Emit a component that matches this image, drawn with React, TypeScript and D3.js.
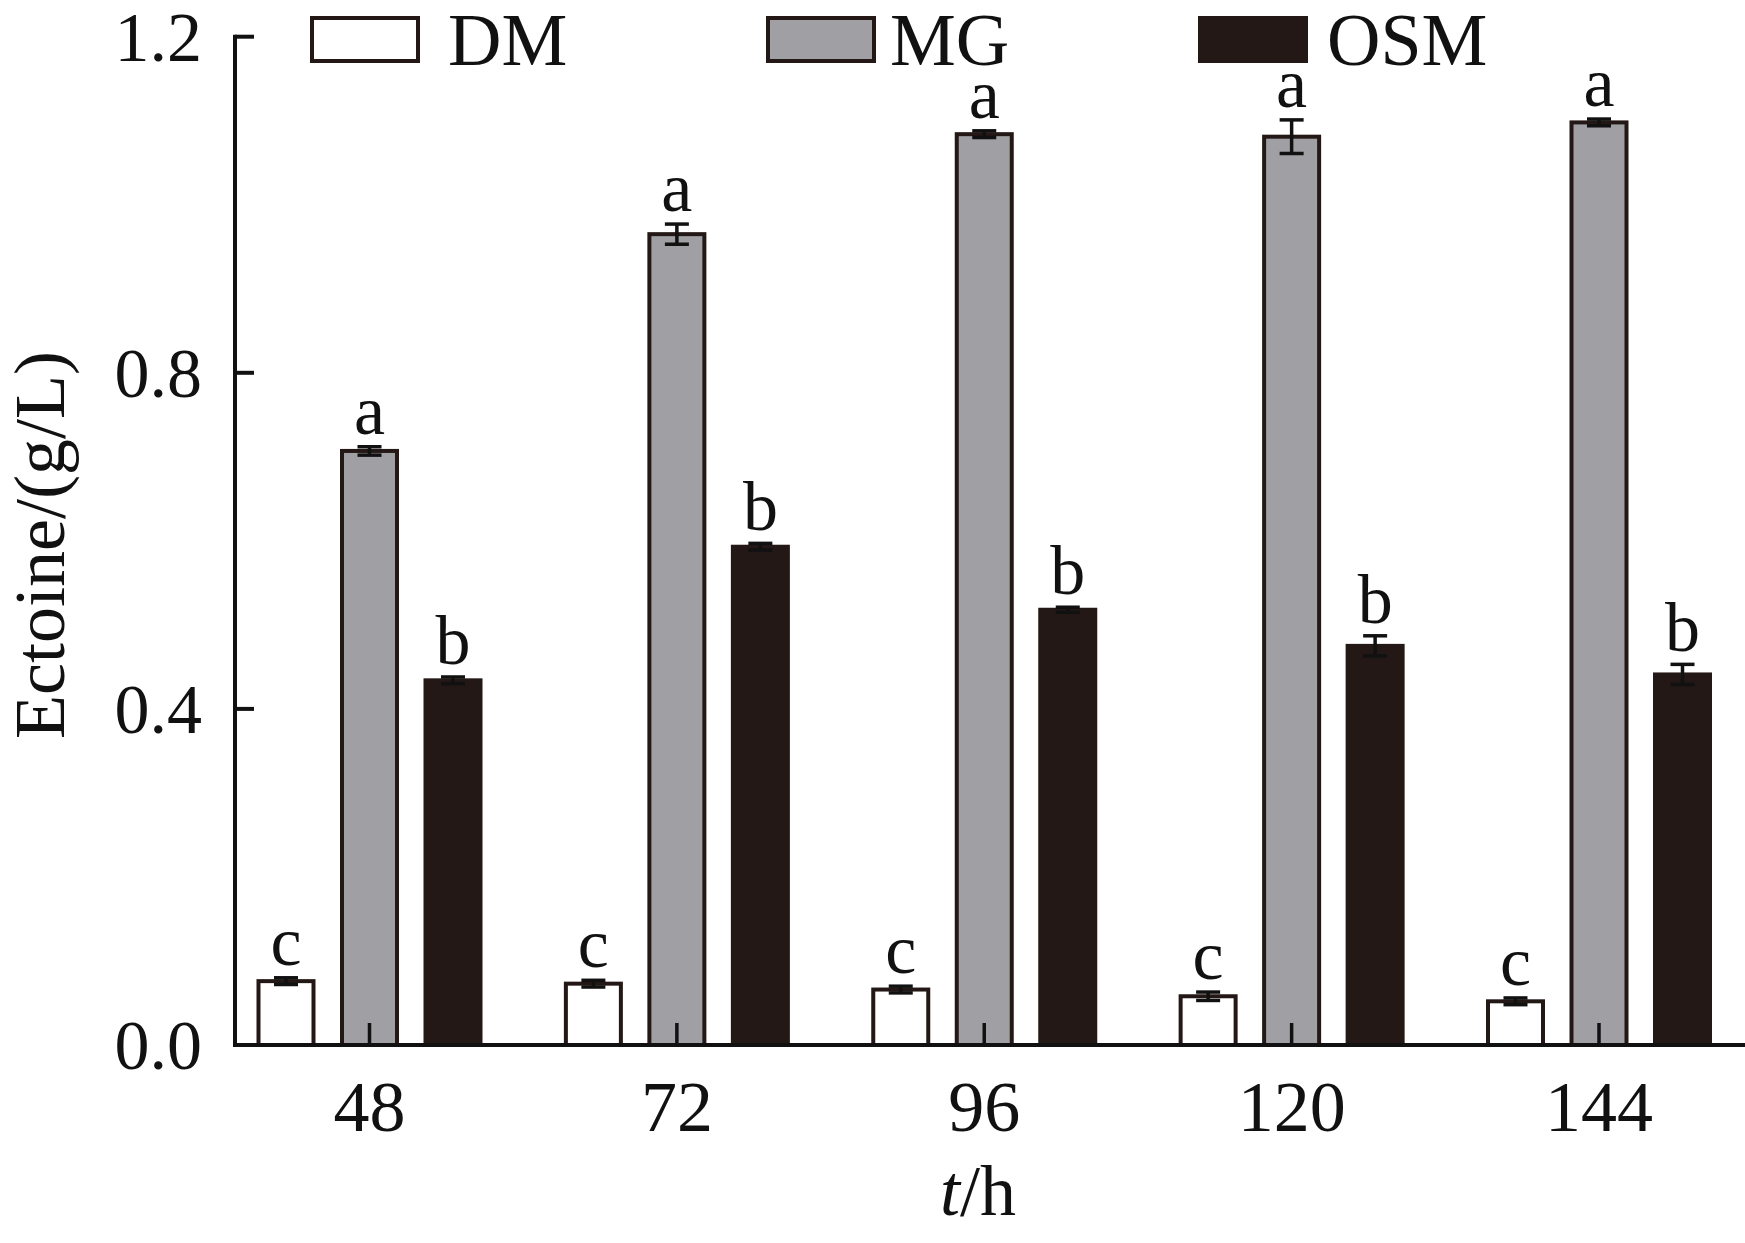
import React, { useEffect, useRef } from "react";
import * as d3 from "d3";

const categories = ["48", "72", "96", "120", "144"];
const seriesNames = ["DM", "MG", "OSM"];
const dmValues = [0.076, 0.073, 0.066, 0.058, 0.052];
const dmErrors = [0.004, 0.004, 0.004, 0.005, 0.004];
const mgValues = [0.707, 0.965, 1.084, 1.081, 1.098];
const mgErrors = [0.005, 0.012, 0.004, 0.02, 0.004];
const osmValues = [0.434, 0.593, 0.518, 0.475, 0.441];
const osmErrors = [0.004, 0.004, 0.003, 0.012, 0.012];
const dmLetters = ["c", "c", "c", "c", "c"];
const mgLetters = ["a", "a", "a", "a", "a"];
const osmLetters = ["b", "b", "b", "b", "b"];
const yTicks = [0, 0.4, 0.8, 1.2];
const yTickLabels = ["0.0", "0.4", "0.8", "1.2"];

const W = 1745;
const H = 1243;
const FONT = "'Liberation Serif', 'Times New Roman', serif";
const INK = "#231815";
const GRAY = "#a0a0a4";

export default function App() {
  const ref = useRef<SVGSVGElement | null>(null);

  useEffect(() => {
    document.body.style.margin = "0";
    const svg = d3.select(ref.current);
    svg.selectAll("*").remove();

    const x0 = d3.scalePoint<string>().domain(categories).range([369.5, 1599]);
    const x1 = d3.scaleBand<string>().domain(seriesNames).range([-125.25, 125.25]).padding(0);
    const y = d3.scaleLinear().domain([0, 1.2]).range([1045, 36.7]);
    const axisX = 235;
    const baseY = y(0);

    const series = [
      { name: "DM", values: dmValues, errors: dmErrors, letters: dmLetters, fill: "#ffffff" },
      { name: "MG", values: mgValues, errors: mgErrors, letters: mgLetters, fill: GRAY },
      { name: "OSM", values: osmValues, errors: osmErrors, letters: osmLetters, fill: INK },
    ];

    const barW = 55;
    const capW = 24;

    const g = svg.append("g");

    series.forEach((s) => {
      const off = (x1(s.name) as number) + x1.bandwidth() / 2;
      categories.forEach((c, i) => {
        const cx = (x0(c) as number) + off;
        const v = s.values[i];
        const e = s.errors[i];
        g.append("rect")
          .attr("x", cx - barW / 2)
          .attr("y", y(v))
          .attr("width", barW)
          .attr("height", baseY - y(v))
          .attr("fill", s.fill)
          .attr("stroke", INK)
          .attr("stroke-width", 4);
        g.append("line")
          .attr("x1", cx).attr("x2", cx)
          .attr("y1", y(v + e)).attr("y2", y(v - e))
          .attr("stroke", "#111").attr("stroke-width", 3.5);
        g.append("line")
          .attr("x1", cx - capW / 2).attr("x2", cx + capW / 2)
          .attr("y1", y(v + e)).attr("y2", y(v + e))
          .attr("stroke", "#111").attr("stroke-width", 3.5);
        g.append("line")
          .attr("x1", cx - capW / 2).attr("x2", cx + capW / 2)
          .attr("y1", y(v - e)).attr("y2", y(v - e))
          .attr("stroke", "#111").attr("stroke-width", 3.5);
        g.append("text")
          .attr("x", cx)
          .attr("y", y(v + e) - 13)
          .attr("text-anchor", "middle")
          .attr("font-family", FONT)
          .attr("font-size", 70)
          .attr("fill", "#111")
          .text(s.letters[i]);
      });
    });

    const ax = svg.append("g").attr("stroke", "#111").attr("stroke-width", 4);
    ax.append("line").attr("x1", axisX).attr("x2", axisX).attr("y1", y(1.2) - 2).attr("y2", baseY + 2);
    ax.append("line").attr("x1", axisX - 2).attr("x2", W).attr("y1", baseY).attr("y2", baseY);
    yTicks.forEach((t) => {
      ax.append("line").attr("x1", axisX).attr("x2", axisX + 19).attr("y1", y(t)).attr("y2", y(t));
    });
    categories.forEach((c) => {
      ax.append("line").attr("x1", x0(c) as number).attr("x2", x0(c) as number)
        .attr("y1", baseY).attr("y2", baseY - 22).attr("stroke-width", 3.5);
    });

    const lab = svg.append("g").attr("font-family", FONT).attr("fill", "#111");
    yTicks.forEach((t, i) => {
      lab.append("text")
        .attr("x", 202)
        .attr("y", y(t))
        .attr("dy", "0.34em")
        .attr("text-anchor", "end")
        .attr("font-size", 70)
        .text(yTickLabels[i]);
    });
    categories.forEach((c) => {
      lab.append("text")
        .attr("x", x0(c) as number)
        .attr("y", 1131)
        .attr("text-anchor", "middle")
        .attr("font-size", 72)
        .text(c);
    });

    lab.append("text")
      .attr("transform", "translate(64,545) rotate(-90)")
      .attr("text-anchor", "middle")
      .attr("font-size", 72)
      .text("Ectoine/(g/L)");
    const xt = lab.append("text")
      .attr("x", 978)
      .attr("y", 1215)
      .attr("text-anchor", "middle")
      .attr("font-size", 72);
    xt.append("tspan").attr("font-style", "italic").text("t");
    xt.append("tspan").text("/h");

    const legendRects = [312, 768, 1200];
    const legendTexts = [448, 890, 1327];
    series.forEach((s, i) => {
      svg.append("rect")
        .attr("x", legendRects[i])
        .attr("y", 18)
        .attr("width", 106)
        .attr("height", 43)
        .attr("fill", s.fill)
        .attr("stroke", INK)
        .attr("stroke-width", 4);
      svg.append("text")
        .attr("x", legendTexts[i])
        .attr("y", 65)
        .attr("font-family", FONT)
        .attr("font-size", 74)
        .attr("fill", "#111")
        .text(s.name);
    });
  }, []);

  return (
    <svg
      ref={ref}
      width={W}
      height={H}
      viewBox={`0 0 ${W} ${H}`}
      style={{ display: "block", background: "#fff" }}
    />
  );
}
